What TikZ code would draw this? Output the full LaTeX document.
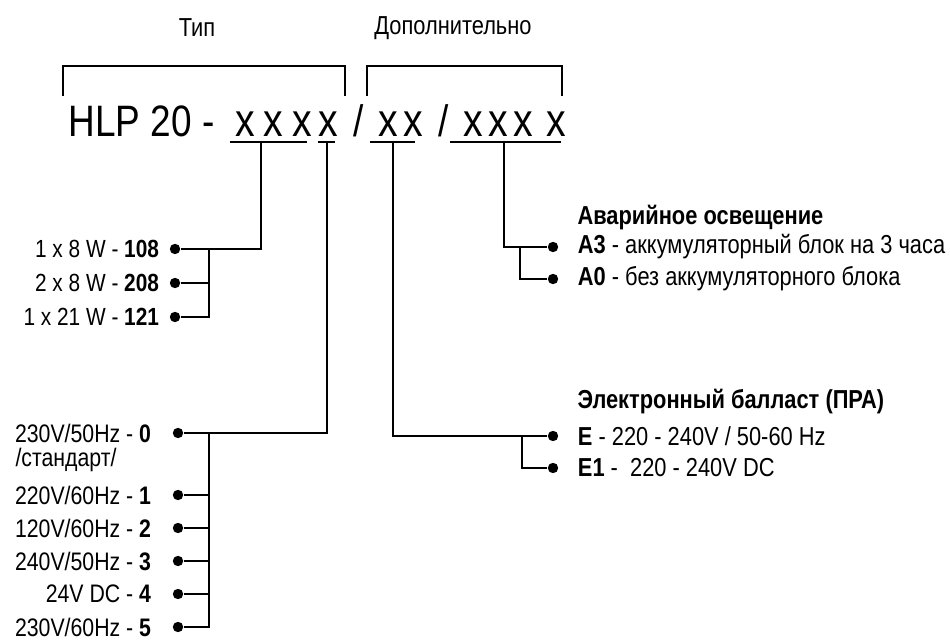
\documentclass[tikz,border=0pt]{standalone}
\usepackage{fontspec}
\setmainfont{Liberation Sans}[FakeStretch=0.84]
\usetikzlibrary{%
  calc,
  positioning
}
\tikzset{
  dot/.style={circle, fill, inner sep=0pt, minimum size=7.8pt},
  lbl/.style={inner sep=0pt, font=\fontsize{#1}{#1}\selectfont},
  lbl/.default=19.5,
  code/.style={inner sep=0pt, anchor=base, font=\fontsize{33}{36}\selectfont}
}

\begin{document}
\begin{tikzpicture}[x=0.75pt, y=-0.75pt, line width=0.8pt]
  \useasboundingbox ( 0, 0) rectangle ( 950, 641) ;

  % headers and brackets
  \node[lbl] (typ) at ( 197, 28) {Тип} ;
  \node[lbl] (extra) at ( 453, 28) {Дополнительно} ;
  \draw ( 63, 96) |- ( 345, 66) -- ( 345, 96) ;
  \draw ( 367, 96) |- ( 562, 66) -- ( 562, 96) ;

  % code line
  \node[code, anchor=base west] (hlp) at ( 68, 137) {HLP 20 -} ;
  \foreach \name/\xpos in {x1/245, x2/273, x3/302, x4/328, x5/388, x6/413,
                           x7/473, x8/498, x9/523, x10/556}
    \node[code] (\name) at (\xpos, 137) {\fontsize{35}{36}\selectfont x} ;
  \node[code] (s1) at ( 359, 137) {/} ;
  \node[code] (s2) at ( 444, 137) {/} ;

  \draw ( 230, 142) -- ( 307, 142) ;
  \draw ( 318, 142) -- ( 335, 142) ;
  \draw ( 370, 142) -- ( 415, 142) ;
  \draw ( 450, 142) -- ( 561, 142) ;
  \coordinate (u1) at ( 261, 142) ;
  \coordinate (u2) at ( 327, 142) ;
  \coordinate (u3) at ( 393, 142) ;
  \coordinate (u4) at ( 504, 142) ;

  % lamps
  \node[dot] (d108) at ( 175, 249) {} ;
  \node[dot] (d208) at ( 175, 283) {} ;
  \node[dot] (d121) at ( 175, 317) {} ;
  \node[lbl=18.6, left=7.3pt of d108] {1 x 8 W - \textbf{108}} ;
  \node[lbl=18.6, left=7.3pt of d208] {2 x 8 W - \textbf{208}} ;
  \node[lbl=18.6, left=7.3pt of d121] {1 x 21 W - \textbf{121}} ;
  \coordinate (j1) at ( 209, 249) ;
  \draw (u1) |- (d108) ;
  \draw (j1) |- (d121) ;
  \draw (d208) -- (d208 -| j1) ;

  % supply
  \node[dot] (d0) at ( 178, 433) {} ;
  \node[dot] (d1) at ( 178, 495) {} ;
  \node[dot] (d2) at ( 178, 528) {} ;
  \node[dot] (d3) at ( 178, 561) {} ;
  \node[dot] (d4) at ( 178, 594) {} ;
  \node[dot] (d5) at ( 178, 627) {} ;
  \node[lbl=19, left=15.5pt of d0] (t0) {230V/50Hz - \textbf{0}} ;
  \node[lbl=19, anchor=west] (std) at ( 15, 460) {/стандарт/} ;
  \node[lbl=19, left=15.5pt of d1] {220V/60Hz - \textbf{1}} ;
  \node[lbl=19, left=15.5pt of d2] {120V/60Hz - \textbf{2}} ;
  \node[lbl=19, left=15.5pt of d3] {240V/50Hz - \textbf{3}} ;
  \node[lbl=19, left=15.5pt of d4] {24V DC - \textbf{4}} ;
  \node[lbl=19, left=15.5pt of d5] {230V/60Hz - \textbf{5}} ;
  \coordinate (j2) at ( 209, 433) ;
  \draw (u2) |- (d0) ;
  \draw (j2) |- (d5) ;
  \foreach \i in {1,...,4}
    \draw (d\i) -- (d\i -| j2) ;

  % emergency lighting
  \node[lbl, anchor=west] (emhead) at ( 577, 218) {\textbf{Аварийное освещение}} ;
  \node[dot] (dA3) at ( 553, 247) {} ;
  \node[dot] (dA0) at ( 553, 279) {} ;
  \node[lbl, right=14pt of dA3] {\textbf{A3} - аккумуляторный блок на 3 часа} ;
  \node[lbl, right=14pt of dA0] {\textbf{A0} - без аккумуляторного блока} ;
  \coordinate (j4) at ( 520, 247) ;
  \draw (u4) |- (dA3) ;
  \draw (j4) |- (dA0) ;

  % ballast
  \node[lbl, anchor=west] (bhead) at ( 577, 402) {\textbf{Электронный балласт (ПРА)}} ;
  \node[dot] (dE) at ( 553, 436) {} ;
  \node[dot] (dE1) at ( 553, 468) {} ;
  \node[lbl, right=14pt of dE] {\textbf{E} - 220 - 240V / 50-60 Hz} ;
  \node[lbl, right=14pt of dE1] {\textbf{E1} -\ \ 220 - 240V DC} ;
  \coordinate (j3) at ( 522, 436) ;
  \draw (u3) |- (dE) ;
  \draw (j3) |- (dE1) ;
\end{tikzpicture}
\end{document}
